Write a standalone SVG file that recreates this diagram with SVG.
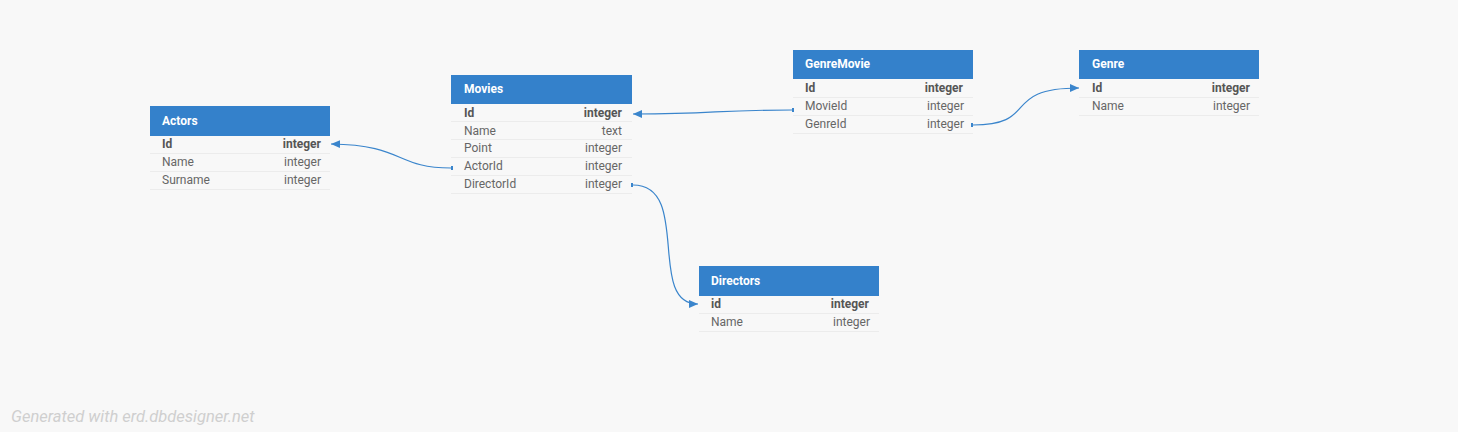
<svg xmlns="http://www.w3.org/2000/svg" width="1458" height="432" viewBox="0 0 1458 432">
<style>
.hd{fill:#3481cb}
.ht{font-family:Roboto,"Liberation Sans",sans-serif;font-size:12px;font-weight:bold;fill:#fff}
.sep{stroke:#ececec;stroke-width:1}
.k{font-family:Roboto,"Liberation Sans",sans-serif;font-size:12px;font-weight:bold;fill:#555}
.f{font-family:Roboto,"Liberation Sans",sans-serif;font-size:12px;fill:#666}
.r{text-anchor:end}
.c{fill:none;stroke:#3a85cc;stroke-width:1.2}
</style>
<defs>
<marker id="arr" markerWidth="10" markerHeight="10" refX="9" refY="5" orient="auto" markerUnits="userSpaceOnUse">
<path d="M0,1 L9,5 L0,9 Z" fill="#3a85cc"/>
</marker>
<marker id="st" markerWidth="6" markerHeight="6" refX="3" refY="3" orient="auto" markerUnits="userSpaceOnUse">
<rect x="1" y="1" width="2" height="4" fill="#3a85cc"/>
</marker>
</defs>
<rect width="1458" height="432" fill="#f8f8f8"/>
<g id="connectors">
<path class="c" d="M451,168 C395,168 405,145 331,144" marker-start="url(#st)" marker-end="url(#arr)"/>
<path class="c" d="M792,110 C710,110 720,114 633,114" marker-start="url(#st)" marker-end="url(#arr)"/>
<path class="c" d="M973,125 C1040,125 1000,88 1079,88" marker-start="url(#st)" marker-end="url(#arr)"/>
<path class="c" d="M633,185 C692,185 646,304 698,304" marker-start="url(#st)" marker-end="url(#arr)"/>
</g>
<g id="actors">
<rect class="hd" x="150" y="106" width="180" height="30"/>
<text class="ht" x="162" y="125">Actors</text>
<line class="sep" x1="150" y1="153.5" x2="330" y2="153.5"/>
<line class="sep" x1="150" y1="171.5" x2="330" y2="171.5"/>
<line class="sep" x1="150" y1="189.5" x2="330" y2="189.5"/>
<text class="k" x="162" y="148">Id</text><text class="k r" x="321" y="148">integer</text>
<text class="f" x="162" y="166">Name</text><text class="f r" x="321" y="166">integer</text>
<text class="f" x="162" y="184">Surname</text><text class="f r" x="321" y="184">integer</text>
</g>
<g id="movies">
<rect class="hd" x="451" y="75" width="181" height="29"/>
<text class="ht" x="464" y="93">Movies</text>
<line class="sep" x1="451" y1="121.5" x2="632" y2="121.5"/>
<line class="sep" x1="451" y1="139.5" x2="632" y2="139.5"/>
<line class="sep" x1="451" y1="157.5" x2="632" y2="157.5"/>
<line class="sep" x1="451" y1="175.5" x2="632" y2="175.5"/>
<line class="sep" x1="451" y1="193.5" x2="632" y2="193.5"/>
<text class="k" x="464" y="117">Id</text><text class="k r" x="622" y="117">integer</text>
<text class="f" x="464" y="135">Name</text><text class="f r" x="622" y="135">text</text>
<text class="f" x="464" y="152">Point</text><text class="f r" x="622" y="152">integer</text>
<text class="f" x="464" y="170">ActorId</text><text class="f r" x="622" y="170">integer</text>
<text class="f" x="464" y="188">DirectorId</text><text class="f r" x="622" y="188">integer</text>
</g>
<g id="genremovie">
<rect class="hd" x="793" y="50" width="180" height="29"/>
<text class="ht" x="805" y="68">GenreMovie</text>
<line class="sep" x1="793" y1="97.5" x2="973" y2="97.5"/>
<line class="sep" x1="793" y1="115.5" x2="973" y2="115.5"/>
<line class="sep" x1="793" y1="133.5" x2="973" y2="133.5"/>
<text class="k" x="805" y="92">Id</text><text class="k r" x="963" y="92">integer</text>
<text class="f" x="805" y="110">MovieId</text><text class="f r" x="964" y="110">integer</text>
<text class="f" x="805" y="128">GenreId</text><text class="f r" x="964" y="128">integer</text>
</g>
<g id="genre">
<rect class="hd" x="1079" y="50" width="180" height="29"/>
<text class="ht" x="1092" y="68">Genre</text>
<line class="sep" x1="1079" y1="97.5" x2="1259" y2="97.5"/>
<line class="sep" x1="1079" y1="115.5" x2="1259" y2="115.5"/>
<text class="k" x="1092" y="92">Id</text><text class="k r" x="1250" y="92">integer</text>
<text class="f" x="1092" y="110">Name</text><text class="f r" x="1250" y="110">integer</text>
</g>
<g id="directors">
<rect class="hd" x="699" y="266" width="180" height="30"/>
<text class="ht" x="711" y="285">Directors</text>
<line class="sep" x1="699" y1="313.5" x2="879" y2="313.5"/>
<line class="sep" x1="699" y1="331.5" x2="879" y2="331.5"/>
<text class="k" x="711" y="308">id</text><text class="k r" x="869" y="308">integer</text>
<text class="f" x="711" y="326">Name</text><text class="f r" x="870" y="326">integer</text>
</g>
<text x="11" y="422" font-family="Roboto,'Liberation Sans',sans-serif" font-size="16.5" font-style="italic" fill="#cfcfcf">Generated with erd.dbdesigner.net</text>
</svg>
